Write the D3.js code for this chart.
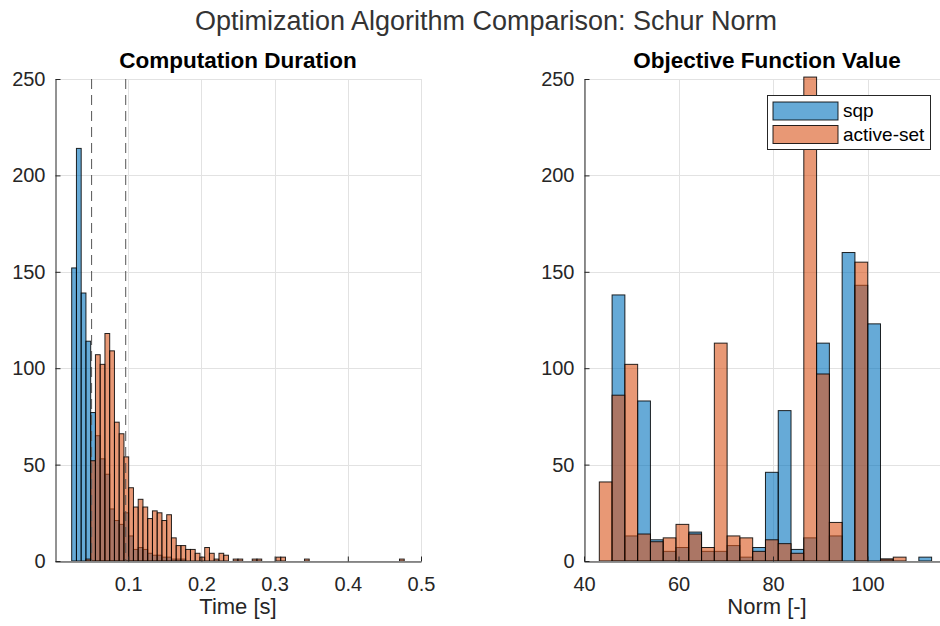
<!DOCTYPE html>
<html lang="en">
<head>
<meta charset="UTF-8" />
<title>Optimization Algorithm Comparison: Schur Norm</title>
<script src="https://unpkg.com/d3@7/dist/d3.min.js"></script>
<style>
  body {
    margin: 0;
    background: #fff;
    font-family: "Liberation Sans", Arial, Helvetica, sans-serif;
  }
  svg { display: block; }
  .axis text { fill: #262626; font-size: 20px; font-family: inherit; }
  .axis path, .axis line { stroke: #262626; }
  .grid line { stroke: #e2e2e2; }
</style>
</head>
<body>
<svg id="fig" width="940" height="626"></svg>

<script>
// ---- data (histogram counts per bin) ----
const seriesNames = ["sqp", "active-set"];
const countTicks = [0, 50, 100, 150, 200, 250];

// computation duration, seconds
const timeBinStart = 0.0228;
const timeBinWidth = 0.00649;
const timeSqp = [152, 214, 139, 114, 77, 65, 53, 45, 27, 21, 19, 25, 13, 6, 7, 6,
                 4, 3, 3, 2, 2, 1, 1, 1];
const timeActive = [0, 0, 0, 1, 52, 107, 102, 118, 109, 72, 66, 54, 38, 28, 32, 28,
                    22, 26, 25, 21, 24, 12, 8, 8, 6, 6, 4, 2, 7, 4, 1, 4,
                    3, 0, 1, 1, 0, 0, 1, 1, 0, 0, 0, 2, 2, 0, 0, 0,
                    0, 1, 0, 0, 0, 0, 0, 0, 0, 0, 0, 0, 0, 0, 0, 0,
                    0, 0, 0, 0, 0, 1, 0];
const timeMarkers = [0.050, 0.0966];
const timeTicks = [0.1, 0.2, 0.3, 0.4, 0.5];

// objective function value (norm)
const normBinStart = 43.24;
const normBinWidth = 2.705;
const normSqp = [0, 138, 13, 83, 11, 5, 7, 15, 5, 5, 8, 2, 7, 46, 78, 6,
                 12, 113, 13, 160, 143, 123, 1, 0, 0, 2];
const normActive = [41, 86, 102, 14, 10, 12, 19, 14, 7, 113, 13, 12, 5, 11, 9, 4,
                    251, 97, 20, 0, 155, 0, 1, 2, 0, 0];
const normTicks = [40, 60, 80, 100];

const colors = ["#0072BD", "#D95319"];

const svg = d3.select("#fig");

svg.append("text")
  .attr("x", 486).attr("y", 30)
  .attr("text-anchor", "middle")
  .style("font-size", "27px")
  .style("fill", "#333")
  .text("Optimization Algorithm Comparison: Schur Norm");

function toBins(counts, start, width) {
  return counts.map((c, i) => ({ x0: start + i * width, x1: start + (i + 1) * width, n: c }));
}

function drawHist(cfg) {
  const { left, right, top, bottom } = cfg;
  const g = svg.append("g");

  const x = d3.scaleLinear().domain(cfg.xDomain).range([left, right]);
  const y = d3.scaleLinear().domain([0, 250]).range([bottom, top]);

  // grid
  const grid = g.append("g").attr("class", "grid");
  grid.selectAll(".gx").data(cfg.xTicks).join("line")
    .attr("x1", d => Math.round(x(d)) + 0.5).attr("x2", d => Math.round(x(d)) + 0.5)
    .attr("y1", top).attr("y2", bottom);
  grid.selectAll(".gy").data(countTicks).join("line")
    .attr("x1", left).attr("x2", right)
    .attr("y1", d => Math.round(y(d)) + 0.5).attr("y2", d => Math.round(y(d)) + 0.5);

  const clipId = "clip-" + cfg.id;
  svg.append("clipPath").attr("id", clipId)
    .append("rect").attr("x", left).attr("y", top - 4)
    .attr("width", right - left).attr("height", bottom - top + 4);

  const bars = g.append("g").attr("clip-path", `url(#${clipId})`);
  cfg.series.forEach((s, si) => {
    bars.append("g").selectAll("rect")
      .data(toBins(s, cfg.binStart, cfg.binWidth).filter(d => d.n > 0))
      .join("rect")
        .attr("x", d => x(d.x0))
        .attr("width", d => x(d.x1) - x(d.x0))
        .attr("y", d => y(d.n))
        .attr("height", d => y(0) - y(d.n))
        .attr("fill", colors[si])
        .attr("fill-opacity", 0.6)
        .attr("stroke", "#000")
        .attr("stroke-opacity", 0.85)
        .attr("stroke-width", 1);
  });

  if (cfg.markers) {
    g.selectAll(".marker").data(cfg.markers).join("line")
      .attr("x1", d => x(d)).attr("x2", d => x(d))
      .attr("y1", top).attr("y2", bottom)
      .attr("stroke", "#555")
      .attr("stroke-width", 1)
      .attr("stroke-dasharray", "10,6");
  }

  // axes, ticks pointing inward
  g.append("g").attr("class", "axis")
    .attr("transform", `translate(0,${bottom + 0.5})`)
    .call(d3.axisBottom(x).tickValues(cfg.xTicks).tickFormat(d3.format("~g"))
      .tickSizeInner(-5).tickSizeOuter(0).tickPadding(15));
  g.append("g").attr("class", "axis")
    .attr("transform", `translate(${left + 0.5},0)`)
    .call(d3.axisLeft(y).tickValues(countTicks)
      .tickSizeInner(-5).tickSizeOuter(0).tickPadding(10));

  g.append("text")
    .attr("x", (left + right) / 2).attr("y", top - 11)
    .attr("text-anchor", "middle")
    .style("font-size", "22.5px").style("font-weight", "bold").style("fill", "#000")
    .text(cfg.title);

  g.append("text")
    .attr("x", (left + right) / 2).attr("y", 614)
    .attr("text-anchor", "middle")
    .style("font-size", "22px").style("fill", "#262626")
    .text(cfg.xLabel);

  return { x, y };
}

drawHist({
  id: "time", left: 55, right: 421, top: 79, bottom: 561,
  xDomain: [0, 0.5], xTicks: timeTicks,
  binStart: timeBinStart, binWidth: timeBinWidth,
  series: [timeSqp, timeActive], markers: timeMarkers,
  title: "Computation Duration", xLabel: "Time [s]"
});

drawHist({
  id: "norm", left: 584, right: 950, top: 79, bottom: 561,
  xDomain: [40, 117.46], xTicks: normTicks,
  binStart: normBinStart, binWidth: normBinWidth,
  series: [normSqp, normActive],
  title: "Objective Function Value", xLabel: "Norm [-]"
});

// legend
const legend = svg.append("g").attr("transform", "translate(767,95)");
legend.append("rect")
  .attr("x", 0.5).attr("y", 0.5).attr("width", 163).attr("height", 54)
  .attr("fill", "#fff").attr("stroke", "#262626").attr("stroke-width", 1);
seriesNames.forEach((name, i) => {
  const row = legend.append("g").attr("transform", `translate(6,${7 + i * 23.5})`);
  row.append("rect")
    .attr("width", 65).attr("height", 18)
    .attr("fill", colors[i]).attr("fill-opacity", 0.6)
    .attr("stroke", "#000").attr("stroke-opacity", 0.85);
  row.append("text")
    .attr("x", 70).attr("y", 15)
    .style("font-size", "19px").style("fill", "#000")
    .text(name);
});
</script>
</body>
</html>
